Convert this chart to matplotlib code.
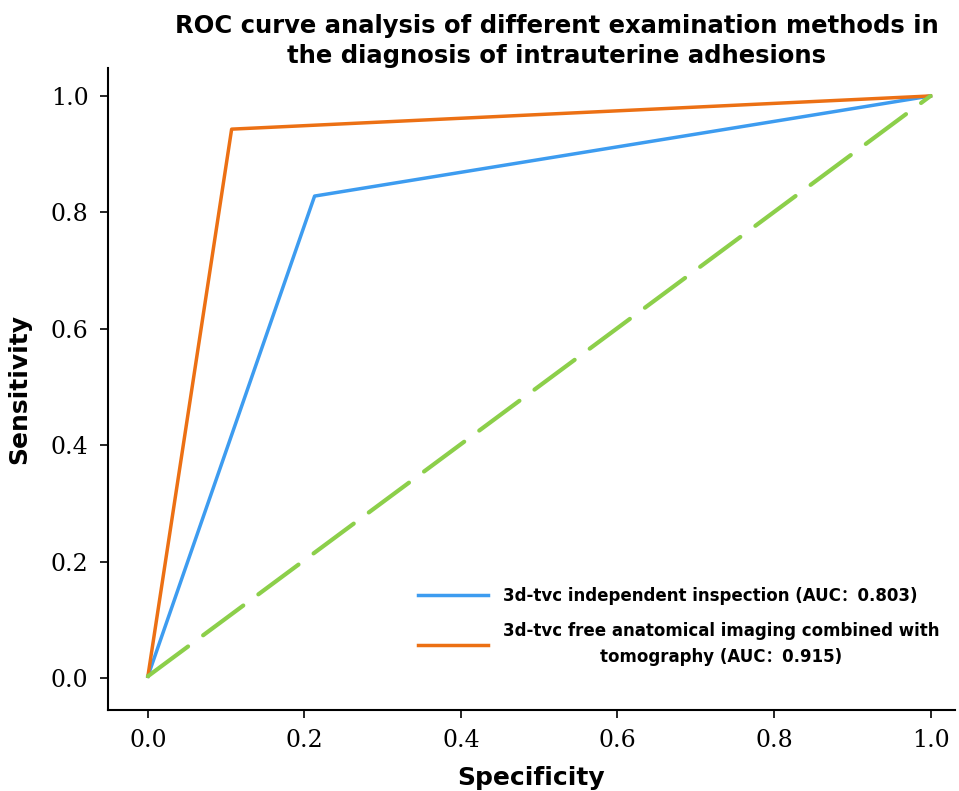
import matplotlib.pyplot as plt

# ROC points (x = 1 - specificity, y = sensitivity)
fpr_3d = [0.0, 0.213, 1.0]
tpr_3d = [0.003, 0.828, 1.0]
fpr_combo = [0.0, 0.107, 1.0]
tpr_combo = [0.003, 0.943, 1.0]
ref_x = [0.0, 1.0]
ref_y = [0.003, 1.0]

label_3d = "3d-tvc independent inspection (AUC\uff1a0.803)"
label_combo = "3d-tvc free anatomical imaging combined with\ntomography (AUC\uff1a0.915)"
ticks = [0.0, 0.2, 0.4, 0.6, 0.8, 1.0]
tick_labels = ["0.0", "0.2", "0.4", "0.6", "0.8", "1.0"]

sans = ["DejaVu Sans", "Noto Sans CJK SC"]
serif = ["DejaVu Serif"]

fig = plt.figure(figsize=(9.59, 7.91), dpi=100)
ax = fig.add_axes([0.1126, 0.1024, 0.883, 0.8116])

ax.plot(fpr_3d, tpr_3d, color="#3d9cf0", lw=2.5, label=label_3d)
ax.plot(fpr_combo, tpr_combo, color="#ec7014", lw=2.5, label=label_combo)
ax.plot(ref_x, ref_y, color="#8ccf4a", lw=3, dashes=(12, 4.5), dash_capstyle="round")

ax.set_xlim(-0.051, 1.031)
ax.set_ylim(-0.055, 1.048)
ax.spines["top"].set_visible(False)
ax.spines["right"].set_visible(False)
for s in ("left", "bottom"):
    ax.spines[s].set_linewidth(1.5)

ax.set_xticks(ticks)
ax.set_yticks(ticks)
ax.set_xticklabels(tick_labels, family=serif, fontsize=17)
ax.set_yticklabels(tick_labels, family=serif, fontsize=17)
ax.tick_params(length=6, width=1.2, pad=8)

ax.set_xlabel("Specificity", family=sans, fontsize=18, fontweight="bold", labelpad=10)
ax.set_ylabel("Sensitivity", family=sans, fontsize=18, fontweight="bold", labelpad=14)
ax.set_title("ROC curve analysis of different examination methods in\nthe diagnosis of intrauterine adhesions",
             family=sans, fontsize=17.5, fontweight="bold", pad=2, linespacing=1.3, x=0.53)

leg = ax.legend(loc="lower right", bbox_to_anchor=(1.0, 0.045), frameon=False,
                prop={"family": sans, "weight": "bold", "size": 12},
                handlelength=4.2, handletextpad=0.9, labelspacing=1.0)
for t in leg.get_texts():
    t.set_multialignment("center")
    t.set_linespacing(1.6)

fig.savefig("out.png", dpi=100)
